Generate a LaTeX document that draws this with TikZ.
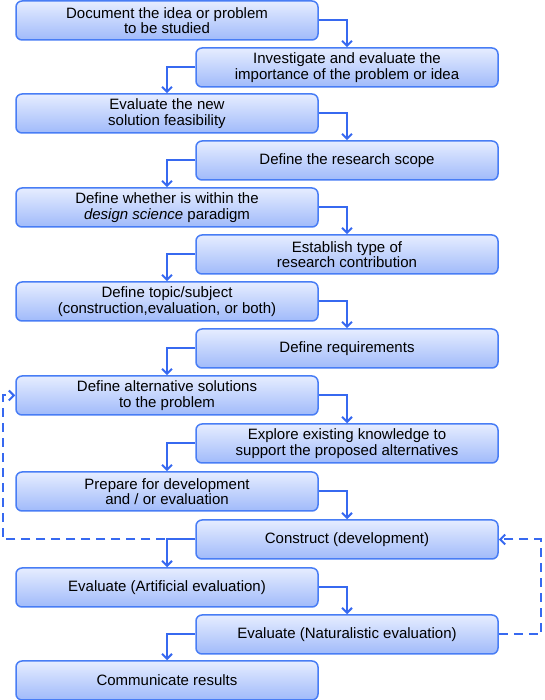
\documentclass[tikz,border=0pt]{standalone}
\usepackage{fontspec}
\setmainfont{Liberation Sans}
\usetikzlibrary{arrows.meta}
\definecolor{bord}{RGB}{72,125,245}
\definecolor{ftop}{RGB}{230,237,255}
\definecolor{fbot}{RGB}{160,186,250}
\definecolor{conn}{RGB}{55,105,240}
\begin{document}
\begin{tikzpicture}[x=1pt,y=1pt,
 box/.style={draw=bord, line width=1.5pt, rounded corners=6pt, top color=ftop, bottom color=fbot, minimum width=302pt, minimum height=39pt, inner sep=0pt, align=center, font=\fontsize{15}{15.5}\selectfont, text=black},
 link/.style={draw=conn, line width=2pt, -{Straight Barb[length=5pt,width=10pt]}},
 back/.style={link, dash pattern=on 9pt off 6pt}]
\useasboundingbox (0,0) rectangle (544,700);
\node[box] (n1) at (167,679.5) {Document the idea or problem\\to be studied};
\node[box] (n2) at (347,632.5) {Investigate and evaluate the\\importance of the problem or idea};
\node[box] (n3) at (167,586.5) {Evaluate the new\\solution feasibility};
\node[box] (n4) at (347,539.5) {Define the research scope};
\node[box] (n5) at (167,492.5) {Define whether is within the\\\textit{design science} paradigm};
\node[box] (n6) at (347,445.5) {Establish type of\\research contribution};
\node[box] (n7) at (167,398.5) {Define topic/subject\\(construction,evaluation, or both)};
\node[box] (n8) at (347,351.5) {Define requirements};
\node[box] (n9) at (167,304.5) {Define alternative solutions\\to the problem};
\node[box] (n10) at (347,256.5) {Explore existing knowledge to\\support the proposed alternatives};
\node[box] (n11) at (167,208.5) {Prepare for development\\and / or evaluation};
\node[box] (n12) at (347,160.5) {Construct (development)};
\node[box] (n13) at (167,112.5) {Evaluate (Artificial evaluation)};
\node[box] (n14) at (347,65.5) {Evaluate (Naturalistic evaluation)};
\node[box] (n15) at (167,19.5) {Communicate results};
\coordinate (dl) at (3,160.5);
\coordinate (dr) at (541,65.5);
\draw[back] (n12.west) -- (dl) |- (n9.west);
\draw[back] (n14.east) -- (dr) |- (n12.east);
\draw[link] (n1.east) -| (n2.north);
\draw[link] (n2.west) -| (n3.north);
\draw[link] (n3.east) -| (n4.north);
\draw[link] (n4.west) -| (n5.north);
\draw[link] (n5.east) -| (n6.north);
\draw[link] (n6.west) -| (n7.north);
\draw[link] (n7.east) -| (n8.north);
\draw[link] (n8.west) -| (n9.north);
\draw[link] (n9.east) -| (n10.north);
\draw[link] (n10.west) -| (n11.north);
\draw[link] (n11.east) -| (n12.north);
\draw[link] (n12.west) -| (n13.north);
\draw[link] (n13.east) -| (n14.north);
\draw[link] (n14.west) -| (n15.north);
\end{tikzpicture}
\end{document}
